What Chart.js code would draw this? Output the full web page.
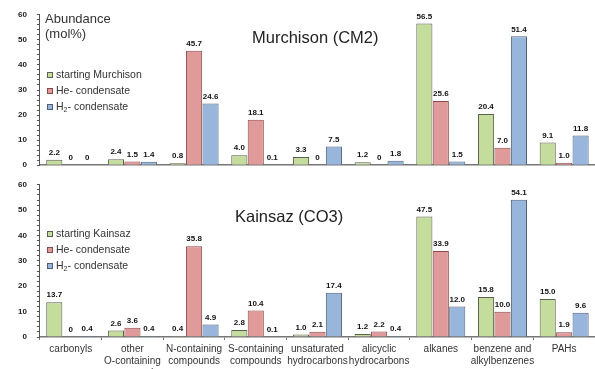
<!DOCTYPE html>
<html><head><meta charset="utf-8">
<script src="https://cdn.jsdelivr.net/npm/chart.js@4/dist/chart.umd.min.js"></script>
<style>
html,body{margin:0;padding:0;background:#fff;width:595px;height:369px;overflow:hidden;position:relative}
.c{position:absolute;left:0}
</style></head><body>
<div class="c" style="top:0;width:595px;height:180px"><canvas id="top"></canvas></div>
<div class="c" style="top:170px;width:595px;height:212px"><canvas id="bot"></canvas></div>
<script>
const categories = [["carbonyls"],["other","O-containing","compounds"],["N-containing","compounds"],["S-containing","compounds"],["unsaturated","hydrocarbons"],["alicyclic","hydrocarbons"],["alkanes"],["benzene and","alkylbenzenes"],["PAHs"]];
const murchisonStart = [2.2, 2.4, 0.8, 4.0, 3.3, 1.2, 56.5, 20.4, 9.1];
const murchisonHe    = [0, 1.5, 45.7, 18.1, 0, 0, 25.6, 7.0, 1.0];
const murchisonH2    = [0, 1.4, 24.6, 0.1, 7.5, 1.8, 1.5, 51.4, 11.8];
const kainsazStart   = [13.7, 2.6, 0.4, 2.8, 1.0, 1.2, 47.5, 15.8, 15.0];
const kainsazHe      = [0, 3.6, 35.8, 10.4, 2.1, 2.2, 33.9, 10.0, 1.9];
const kainsazH2      = [0.4, 0.4, 4.9, 0.1, 17.4, 0.4, 12.0, 54.1, 9.6];
const yTicks = [0, 10, 20, 30, 40, 50, 60];

const GREEN='#c4dc9c', RED='#e09a9a', BLUE='#98b6dc';
const BG='#5e5e50', BR='#8a4a4a', BB='#4f5f7a';

const labelPlugin = {
  id:'vals',
  afterDatasetsDraw(chart){
    const ctx=chart.ctx;
    ctx.save();
    ctx.font='bold 8px "Liberation Sans", Arial, sans-serif';
    ctx.fillStyle='#111';
    ctx.textAlign='center';
    ctx.textBaseline='bottom';
    chart.data.datasets.forEach((ds,i)=>{
      const meta=chart.getDatasetMeta(i);
      meta.data.forEach((bar,j)=>{
        const v=ds.data[j];
        const t = v===0 ? '0' : v.toFixed(1);
        ctx.fillText(t, bar.x, bar.y-3);
      });
    });
    ctx.restore();
  }
};
const extrasPlugin = {
  id:'extras',
  afterDraw(chart, args, o){
    const ctx=chart.ctx;
    ctx.save();
    ctx.fillStyle='#222';
    ctx.textBaseline='middle';
    ctx.textAlign='left';
    ctx.font='16.5px "Liberation Sans", Arial, sans-serif';
    ctx.fillText(o.title, o.tx, o.ty);
    if(o.abund){
      ctx.font='13px "Liberation Sans", Arial, sans-serif';
      ctx.fillStyle='#333';
      ctx.fillText('Abundance', 45, 19);
      ctx.fillText('(mol%)', 45, 34);
    }
    const cols=[[GREEN,BG],[RED,BR],[BLUE,BB]];
    ctx.font='10.5px "Liberation Sans", Arial, sans-serif';
    o.legend.forEach((t,i)=>{
      const y=o.ly+i*o.lsp;
      ctx.fillStyle=cols[i][0]; ctx.fillRect(o.lx,y-3,6,6);
      ctx.strokeStyle=cols[i][1]; ctx.lineWidth=1; ctx.strokeRect(o.lx+0.5,y-2.5,5,5);
      ctx.fillStyle='#333';
      if(i===2){
        ctx.fillText('H',o.lx+9,y);
        let w=ctx.measureText('H').width;
        ctx.font='7px "Liberation Sans", Arial, sans-serif';
        ctx.fillText('2',o.lx+9+w,y+3);
        let w2=ctx.measureText('2').width;
        ctx.font='10.5px "Liberation Sans", Arial, sans-serif';
        ctx.fillText('- condensate',o.lx+9+w+w2,y);
      } else ctx.fillText(t,o.lx+9,y);
    });
    ctx.restore();
  }
};

function makeChart(id, a, b, c, showX, extras, pad){
  return new Chart(document.getElementById(id), {
    type:'bar',
    data:{labels:categories, datasets:[
      {data:a, backgroundColor:GREEN, borderColor:BG, borderWidth:1},
      {data:b, backgroundColor:RED, borderColor:BR, borderWidth:1},
      {data:c, backgroundColor:BLUE, borderColor:BB, borderWidth:1}
    ]},
    options:{
      responsive:true, maintainAspectRatio:false, animation:false,
      layout:{padding:pad},
      datasets:{bar:{categoryPercentage:0.8, barPercentage:0.98}},
      plugins:{legend:{display:false}, tooltip:{enabled:false}, extras},
      scales:{
        x:{
          grid:{display:true, drawOnChartArea:false, drawTicks:showX, tickLength:3, offset:true, color:'#777'},
          border:{display:true, color:'#777', width:1.5},
          ticks:{display:showX, color:'#333', font:{size:10, family:'"Liberation Sans", Arial, sans-serif', lineHeight:1.2}, maxRotation:0, autoSkip:false, padding:3}
        },
        y:{
          min:0, max:60,
          afterBuildTicks(s){ s.ticks=[]; for(let v=0; v<=60; v+=2) s.ticks.push({value:v}); },
          grid:{display:true, drawOnChartArea:false, tickLength:3, color:'#555'},
          border:{display:true, color:'#555', width:1},
          ticks:{autoSkip:false, color:'#222', font:{size:8, weight:'bold', family:'"Liberation Sans", Arial, sans-serif'}, padding:10,
            callback:(v)=> yTicks.includes(v) ? String(v) : ''}
        }
      }
    },
    plugins:[labelPlugin, extrasPlugin]
  });
}
makeChart('top', murchisonStart, murchisonHe, murchisonH2, false,
  {title:'Murchison (CM2)', tx:252, ty:38, abund:true, legend:['starting Murchison','He- condensate','H2- condensate'], lx:47, ly:75, lsp:16},
  {top:14, left:8, right:0, bottom:3});
makeChart('bot', kainsazStart, kainsazHe, kainsazH2, true,
  {title:'Kainsaz (CO3)', tx:235, ty:47, abund:false, legend:['starting Kainsaz','He- condensate','H2- condensate'], lx:47, ly:64, lsp:16},
  {top:8, left:8, right:0, bottom:0});
</script>
</body></html>
